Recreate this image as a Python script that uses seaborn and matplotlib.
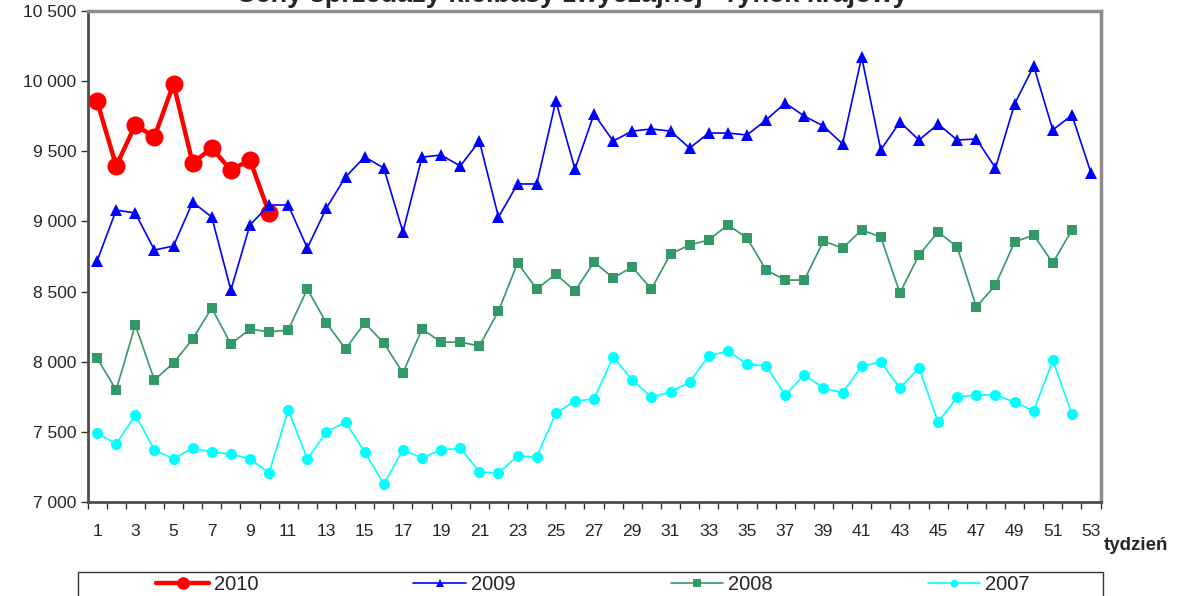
import matplotlib
matplotlib.use("Agg")
import matplotlib.pyplot as plt
from matplotlib.patches import Rectangle
from matplotlib.ticker import FixedLocator, FuncFormatter
import pandas as pd
import seaborn as sns

# weekly prices
weeks = list(range(1, 54))

y2010 = [9858, 9395, 9687, 9602, 9980, 9416, 9523, 9366, 9438, 9060]

y2009 = [8718, 9081, 9060, 8796, 8825, 9138, 9031, 8511, 8975, 9117,
         9117, 8810, 9096, 9317, 9459, 9381, 8925, 9459, 9473, 9395,
         9573, 9031, 9267, 9267, 9858, 9374, 9766, 9573, 9644, 9659,
         9644, 9523, 9630, 9630, 9616, 9723, 9844, 9751, 9680, 9552,
         10172, 9509, 9709, 9580, 9694, 9580, 9588, 9381, 9837, 10108,
         9652, 9758, 9345]

y2008 = [8026, 7798, 8262, 7870, 7991, 8162, 8383, 8126, 8233, 8212,
         8226, 8518, 8276, 8091, 8276, 8133, 7920, 8233, 8140, 8140,
         8112, 8361, 8704, 8518, 8625, 8504, 8711, 8597, 8675, 8518,
         8768, 8832, 8868, 8975, 8882, 8654, 8582, 8582, 8860, 8810,
         8939, 8889, 8490, 8761, 8925, 8818, 8390, 8547, 8853, 8903,
         8704, 8939]

y2007 = [7492, 7413, 7620, 7371, 7307, 7385, 7356, 7342, 7307, 7207,
         7656, 7307, 7499, 7570, 7356, 7128, 7371, 7314, 7371, 7385,
         7214, 7207, 7328, 7321, 7634, 7720, 7734, 8034, 7870, 7748,
         7784, 7855, 8041, 8076, 7984, 7969, 7763, 7905, 7813, 7777,
         7969, 7998, 7813, 7955, 7570, 7748, 7763, 7763, 7713, 7649,
         8012, 7627]

series = [
    ("2010", y2010, dict(color="#FF0000", marker="o", markersize=13, linewidth=3.2)),
    ("2009", y2009, dict(color="#0000FF", marker="^", markersize=9, linewidth=1.2)),
    ("2008", y2008, dict(color="#339966", marker="s", markersize=7.5, linewidth=1.2)),
    ("2007", y2007, dict(color="#00FFFF", marker="o", markersize=8, linewidth=1.2)),
]

sns.set_style("white")
plt.rcParams["font.family"] = ["Liberation Sans", "DejaVu Sans"]

fig = plt.figure(figsize=(11.79, 5.96), dpi=100)
ax = fig.add_axes([87.5 / 1179, 1 - 502 / 596, (1100.6 - 87.5) / 1179, (502 - 11) / 596])

for name, vals, st in series:
    df = pd.DataFrame({"week": weeks[:len(vals)], "price": vals})
    sns.lineplot(data=df, x="week", y="price", ax=ax, label=name,
                 color=st["color"], marker=st["marker"], markersize=st["markersize"],
                 linewidth=st["linewidth"], markeredgecolor=st["color"],
                 markeredgewidth=0, legend=False)

ax.set_xlim(0.5, 53.5)
ax.set_ylim(7000, 10500)
ax.set_xlabel("")
ax.set_ylabel("")

ax.yaxis.set_major_locator(FixedLocator(range(7000, 10501, 500)))
ax.yaxis.set_major_formatter(FuncFormatter(lambda v, p: f"{int(v):,}".replace(",", " ")))
ax.xaxis.set_major_locator(FixedLocator(range(1, 54, 2)))
ax.xaxis.set_minor_locator(FixedLocator([w + 0.5 for w in range(0, 54)]))

ax.tick_params(axis="y", which="major", direction="out", length=5, width=1,
               color="#333333", labelsize=12.5, pad=3, left=True)
ax.tick_params(axis="x", which="major", length=0, labelsize=12.5, pad=16)
ax.tick_params(axis="x", which="minor", direction="out", length=5, width=1,
               color="#333333", bottom=True)

for side in ["top", "right"]:
    ax.spines[side].set_color("#8c8c8c")
    ax.spines[side].set_linewidth(2.5)
for side in ["left", "bottom"]:
    ax.spines[side].set_color("#4d4d4d")
    ax.spines[side].set_linewidth(2)

# title is cut off at the top edge, as in the source image
fig.text(0.485, 1 - 1.5 / 596, "Ceny sprzedaży kiełbasy zwyczajnej - rynek krajowy",
         ha="center", va="baseline", fontsize=19.5, fontweight="bold")

fig.text(1104 / 1179, 1 - 546 / 596, "tydzień", ha="left", va="center",
         fontsize=13.5, fontweight="bold")

# legend box running off the bottom edge
fig.patches.append(Rectangle((78 / 1179, -0.05), (1103 - 78) / 1179, 0.05 + 1 - 572 / 596,
                             transform=fig.transFigure, fill=False,
                             edgecolor="#333333", linewidth=1))
handles, labels = ax.get_legend_handles_labels()
fig.legend(handles, labels, loc="center", bbox_to_anchor=(593 / 1179, 1 - 585 / 596),
           ncol=4, frameon=False, fontsize=14.5, handlelength=2.6, handletextpad=0.25,
           columnspacing=7.7, markerscale=0.7)

fig.savefig("out.png", dpi=100)
